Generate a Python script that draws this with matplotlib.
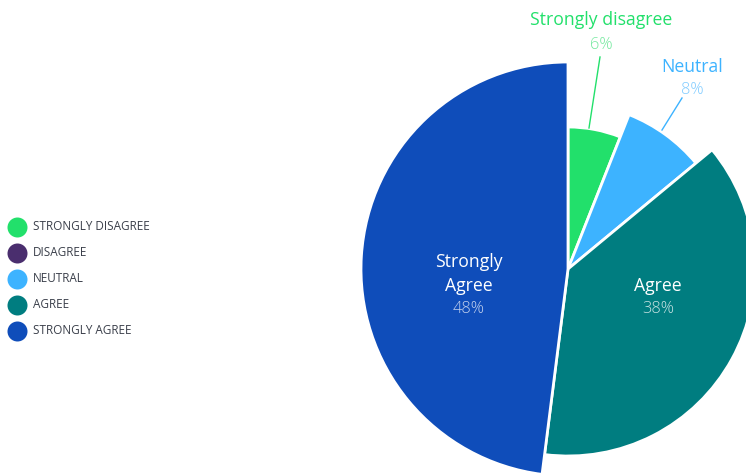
import numpy as np
import matplotlib
matplotlib.use('Agg')
import matplotlib.pyplot as plt

plt.rcParams['font.family'] = ['Open Sans', 'DejaVu Sans']

# ─── Datos ────────────────────────────────────────────────────────────────────
categories = ['Strongly disagree', 'Disagree', 'Neutral', 'Agree', 'Strongly Agree']
legend_labels = ['STRONGLY DISAGREE', 'DISAGREE', 'NEUTRAL', 'AGREE', 'STRONGLY AGREE']
values = [6, 0, 8, 38, 48]

# ─── Estilo ───────────────────────────────────────────────────────────────────
colors = ['#22E06B', '#4A2E6E', '#3DB3FF', '#007D80', '#0F4DBA']
radius = [142, 0, 166, 187, 207]      # radio de cada sector [px]
CENTER = (568, 476 - 269)
H = 476

fig = plt.figure(figsize=(7.46, 4.76), dpi=100)
ax = fig.add_axes([0, 0, 1, 1])

wedges, _ = ax.pie(values, colors=colors, startangle=90, counterclock=False,
                   center=CENTER, radius=1,
                   wedgeprops=dict(edgecolor='white', linewidth=2))
for w, r, v in zip(wedges, radius, values):
    w.set_radius(r)
    if v == 0:
        w.set_visible(False)

ax.set_xlim(0, 746)
ax.set_ylim(0, 476)
ax.set_aspect('equal')
ax.axis('off')

FS_NAME = 12.7
FS_PCT = 11.8


def label(x, y, s, color, fs, weight='normal'):
    ax.text(x, H - y, s, color=color, fontsize=fs, ha='center', va='center',
            fontweight=weight)


# ─── Etiquetas exteriores ────────────────────────────────────────────────────
label(601, 20, categories[0], '#22E06B', FS_NAME)
label(601, 45, f'{values[0]}%', '#72E89D', FS_PCT, 'light')
ax.plot([600, 589], [H - 57, H - 128], color='#22E06B', lw=1)

label(692, 67, categories[2], '#3DB3FF', FS_NAME)
label(692, 90, f'{values[2]}%', '#7FCBFF', FS_PCT, 'light')
ax.plot([682, 662], [H - 98, H - 130], color='#3DB3FF', lw=1)

# ─── Etiquetas interiores ────────────────────────────────────────────────────
label(658, 286, categories[3], 'white', FS_NAME)
label(658, 309, f'{values[3]}%', '#C8E3E3', FS_PCT, 'light')

label(469, 262, 'Strongly', 'white', FS_NAME)
label(469, 286, 'Agree', 'white', FS_NAME)
label(469, 309, f'{values[4]}%', '#C4D2EE', FS_PCT, 'light')

# ─── Leyenda ─────────────────────────────────────────────────────────────────
for i, (lab, col) in enumerate(zip(legend_labels, colors)):
    y = H - (227 + i * 26)
    ax.plot(17, y, marker='o', markersize=14.4, color=col, markeredgewidth=0)
    ax.text(33, y, lab, color='#3A3F4A', fontsize=8.5, ha='left', va='center')

fig.savefig('out.png', dpi=100)
